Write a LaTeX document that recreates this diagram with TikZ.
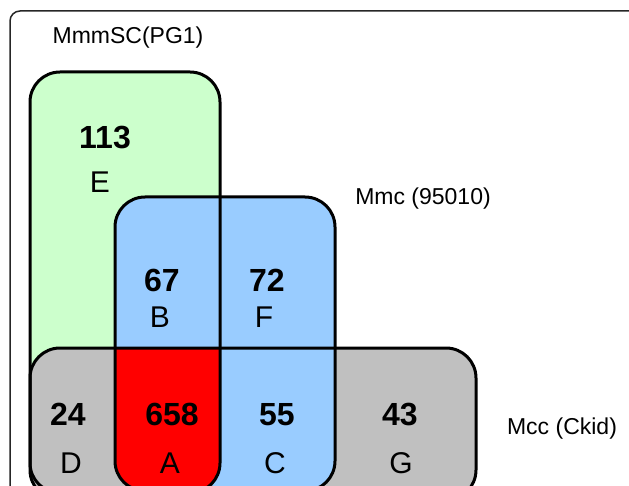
\documentclass[tikz,border=0pt]{standalone}
\usepackage{fontspec}
\setmainfont{Liberation Sans}
\definecolor{pgone}{HTML}{CCFFCC}
\definecolor{mmcblue}{HTML}{99CCFF}
\definecolor{mccgray}{HTML}{C0C0C0}
\begin{document}
\begin{tikzpicture}[x=1pt,y=-1pt,
    setbox/.style={line width=3pt, rounded corners=30pt},
    numtext/.style={anchor=base, font=\fontsize{32}{36}\selectfont\bfseries},
    lettext/.style={anchor=base, font=\fontsize{30}{34}\selectfont},
    settext/.style={anchor=base, font=\fontsize{23}{27}\selectfont}]
    \useasboundingbox (0,0) rectangle (629,486);
    \clip (0,0) rectangle (629,486);

    % Рамка рисунка
    \draw[line width=1.5pt, rounded corners=10pt, black!85] (10,11) rectangle (680,540);

    % Заливки множеств
    \fill[pgone, rounded corners=30pt] (30,72) rectangle (220,493);
    \fill[mccgray, rounded corners=30pt] (30,348) rectangle (476,500);
    \fill[mmcblue, rounded corners=30pt] (115,197) rectangle (335,491);

    % Пересечение всех трёх
    \begin{scope}
        \clip[rounded corners=30pt] (30,72) rectangle (220,493);
        \clip[rounded corners=30pt] (115,197) rectangle (335,491);
        \fill[red, rounded corners=30pt] (30,348) rectangle (476,500);
    \end{scope}

    % Контуры
    \draw[setbox] (30,72) rectangle (220,493);
    \draw[setbox] (115,197) rectangle (335,491);
    \draw[setbox] (30,348) rectangle (476,500);

    % Подписи множеств
    \node[settext] (pgname) at (128,44) {MmmSC(PG1)};
    \node[settext] (mmcname) at (423,205) {Mmc (95010)};
    \node[settext] (mccname) at (562,434) {Mcc (Ckid)};

    % Числа и буквы областей
    \node[numtext] (nE) at (105,149) {113};
    \node[lettext] (lE) at (100,193) {E};
    \node[numtext] (nB) at (162,292) {67};
    \node[lettext] (lB) at (160,327) {B};
    \node[numtext] (nF) at (267,292) {72};
    \node[lettext] (lF) at (264,327) {F};
    \node[numtext] (nD) at (68,425) {24};
    \node[lettext] (lD) at (71,473) {D};
    \node[numtext] (nA) at (172,425) {658};
    \node[lettext] (lA) at (170,473) {A};
    \node[numtext] (nC) at (277,425) {55};
    \node[lettext] (lC) at (275,473) {C};
    \node[numtext] (nG) at (400,425) {43};
    \node[lettext] (lG) at (401,473) {G};
\end{tikzpicture}
\end{document}
